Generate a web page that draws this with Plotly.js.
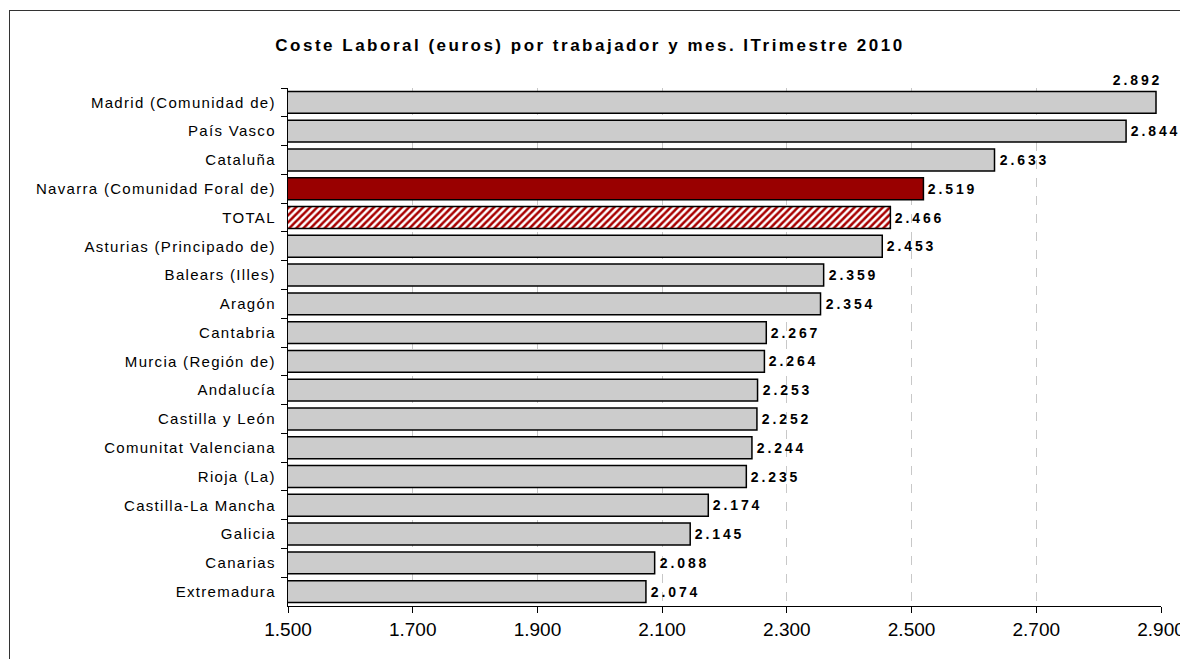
<!DOCTYPE html>
<html><head><meta charset="utf-8">
<script src="https://cdn.plot.ly/plotly-3.0.1.min.js"></script>
<style>
html,body{margin:0;padding:0;background:#fff;overflow:hidden;}
#chart{width:1180px;height:659px;position:absolute;left:0;top:0;}
#frame{position:absolute;left:9px;top:10px;width:1200px;height:700px;border:1.5px solid #333;pointer-events:none;}
#chart .annotation-text{letter-spacing:2.9px;}
#chart .ytick text{letter-spacing:1.3px;}
#chart .gtitle{letter-spacing:2.5px;}
</style></head>
<body>
<div id="chart"></div>
<div id="frame"></div>
<script>
const categories = ["Madrid (Comunidad de)","País Vasco","Cataluña","Navarra (Comunidad Foral de)","TOTAL","Asturias (Principado de)","Balears (Illes)","Aragón","Cantabria","Murcia (Región de)","Andalucía","Castilla y León","Comunitat Valenciana","Rioja (La)","Castilla-La Mancha","Galicia","Canarias","Extremadura"];
const values = [2892,2844,2633,2519,2466,2453,2359,2354,2267,2264,2253,2252,2244,2235,2174,2145,2088,2074];
const tickValues = [1500,1700,1900,2100,2300,2500,2700,2900];

const GRAY = "#cccccc", NAVARRA = "#990000", HATCH = "#a80000";
const fills = categories.map(c => c.startsWith("Navarra") ? NAVARRA : GRAY);
const totalIdx = categories.indexOf("TOTAL");

function fmt(v){ const s = String(v); return s.length > 3 ? s.slice(0, s.length-3) + "." + s.slice(-3) : s; }

const FONT = "Liberation Sans, Arial, sans-serif";

const mainTrace = {
  type: "bar", orientation: "h",
  x: values.map((v, i) => i === totalIdx ? null : v),
  y: categories,
  width: 0.76,
  marker: {color: fills, line: {color: "#000", width: 1.5}},
  hoverinfo: "none"
};
const totalTrace = {
  type: "bar", orientation: "h",
  x: [values[totalIdx]], y: [categories[totalIdx]],
  width: 0.76,
  marker: {
    color: "#ffffff",
    line: {color: "#000", width: 1.5},
    pattern: {shape: "/", fgcolor: HATCH, bgcolor: "#ffffff", size: 5, solidity: 0.5, fillmode: "replace"}
  },
  hoverinfo: "none"
};

const annotations = values.map((v, i) => {
  const top = i === 0;
  return {
    x: v, y: categories[i], xref: "x", yref: "y",
    text: "<b>" + fmt(v) + "</b>",
    showarrow: false,
    xanchor: top ? "right" : "left",
    xshift: top ? 1 : 10,
    yshift: top ? 22 : 0,
    font: {family: FONT, size: 14, color: "#000"}
  };
});

const layout = {
  width: 1180, height: 659,
  margin: {l: 288, r: 19, t: 88, b: 53, pad: 0},
  paper_bgcolor: "#fff", plot_bgcolor: "#fff",
  separators: ",.",
  showlegend: false,
  barmode: "overlay",
  title: {
    text: "<b>Coste Laboral (euros) por trabajador y mes. ITrimestre 2010</b>",
    x: 0.5, xref: "container", xanchor: "center",
    y: 1 - 45/659, yref: "container", yanchor: "middle",
    font: {family: FONT, size: 17, color: "#000"}
  },
  xaxis: {
    range: [1500, 2900], tickvals: tickValues, tickformat: ",.0f",
    showgrid: true, gridcolor: "#c8c8c8", griddash: "dash", gridwidth: 1,
    zeroline: false,
    showline: true, linecolor: "#000", linewidth: 1.2,
    ticks: "outside", ticklen: 6, tickcolor: "#000", tickwidth: 1,
    tickfont: {family: FONT, size: 19, color: "#000"},
    ticklabeloverflow: "allow",
    fixedrange: true
  },
  yaxis: {
    type: "category", autorange: "reversed",
    categoryorder: "array", categoryarray: categories,
    tickson: "boundaries",
    showline: true, linecolor: "#000", linewidth: 1.2,
    ticks: "outside", ticklen: 6, tickcolor: "#000", tickwidth: 1,
    showgrid: false,
    tickfont: {family: FONT, size: 15, color: "#000"},
    ticklabelstandoff: 8,
    fixedrange: true
  },
  annotations: annotations
};

Plotly.newPlot("chart", [mainTrace, totalTrace], layout, {displayModeBar: false, staticPlot: true});
</script>
</body></html>
